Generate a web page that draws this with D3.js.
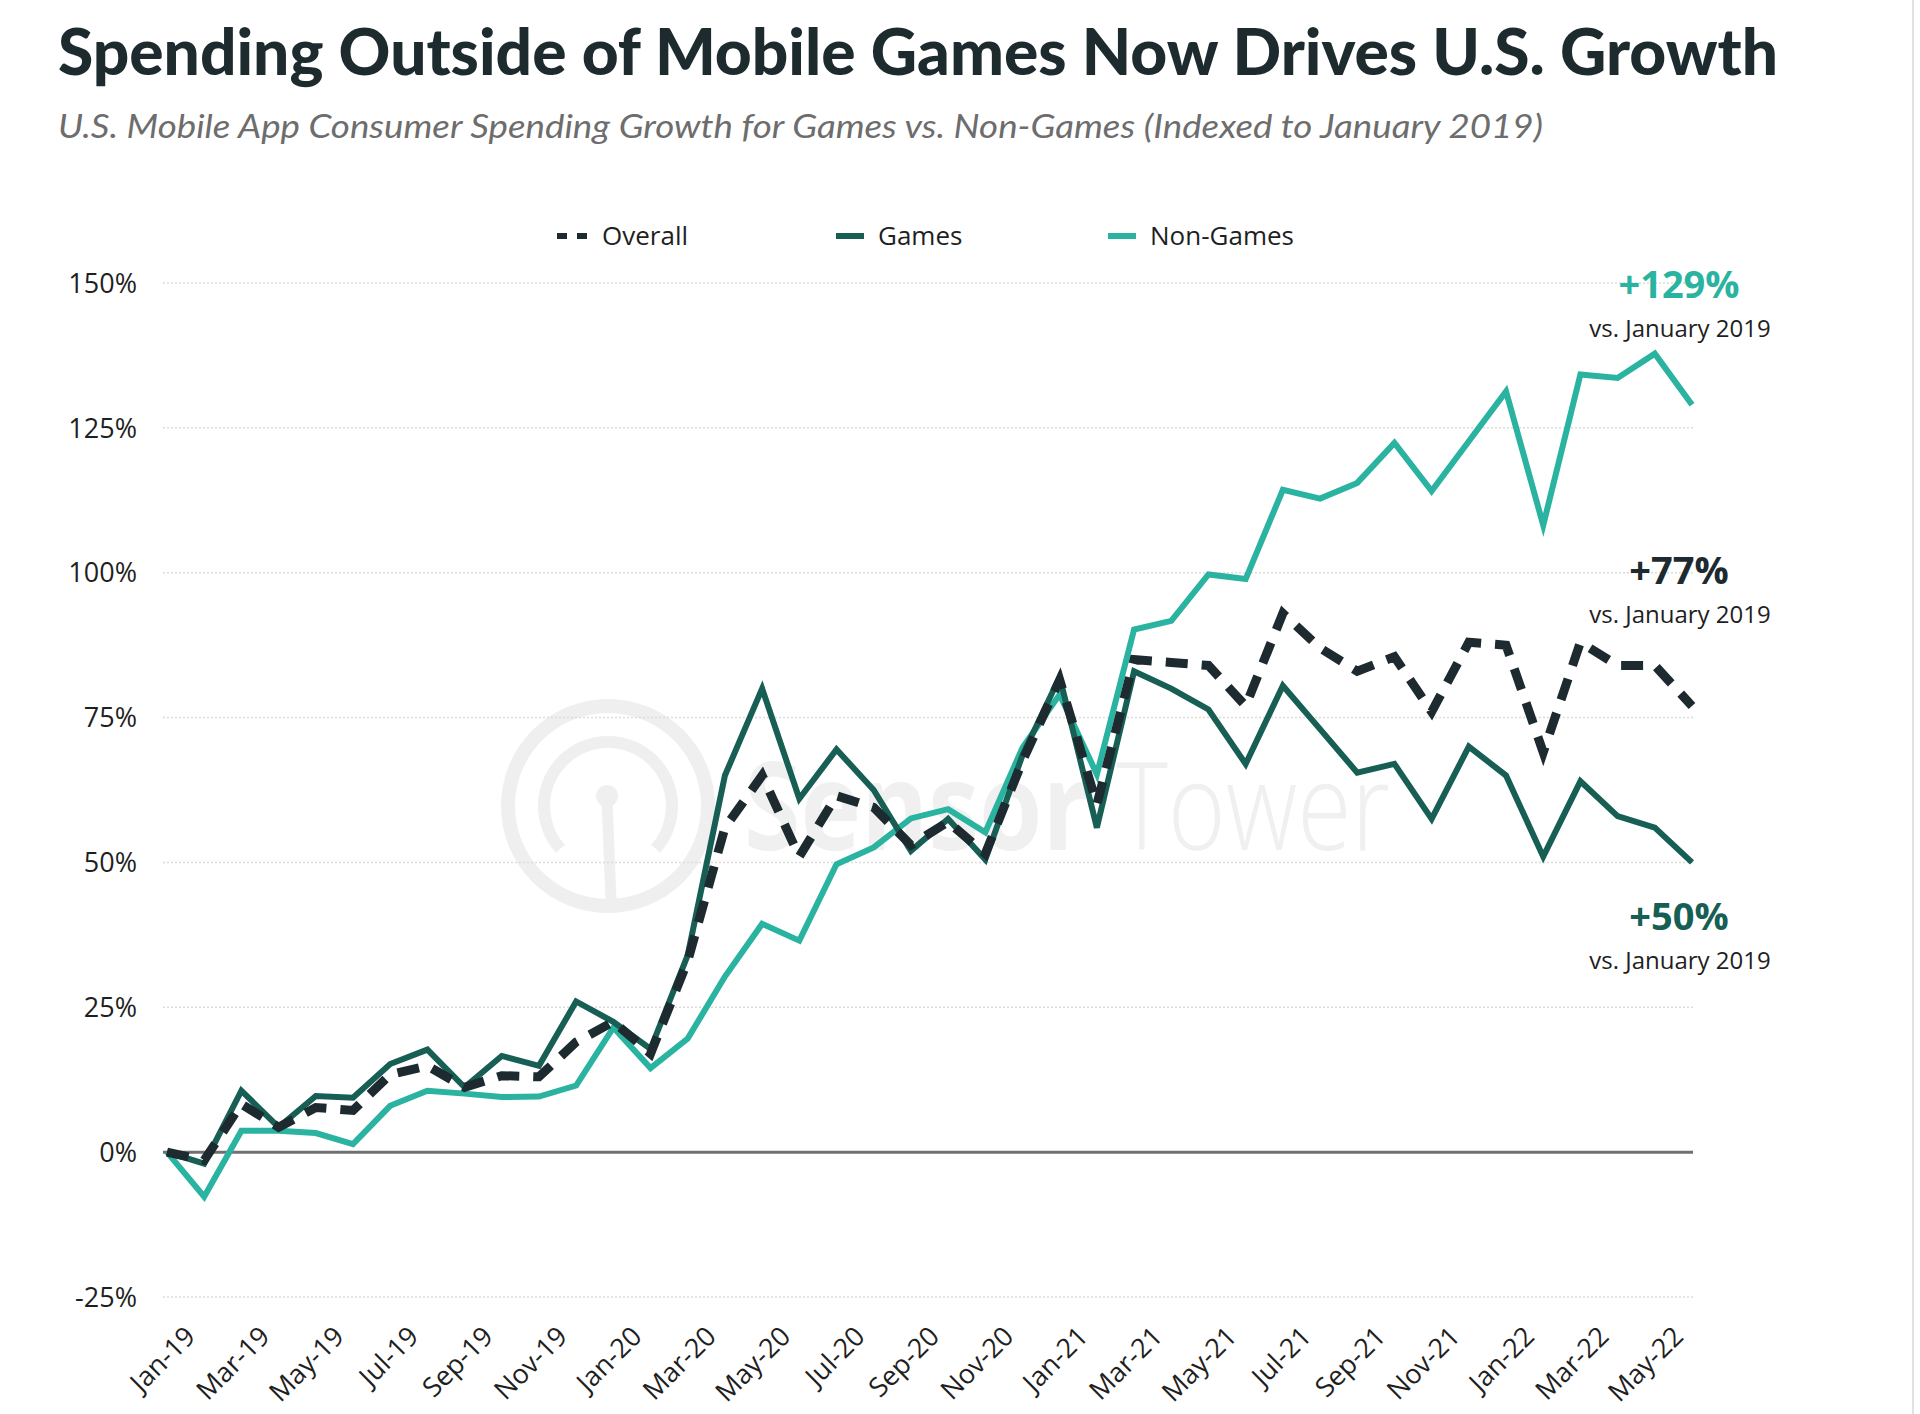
<!DOCTYPE html>
<html>
<head>
<meta charset="utf-8">
<script src="https://cdn.jsdelivr.net/npm/d3@7"></script>
<style>
  body { margin: 0; background: #fff; }
</style>
</head>
<body>
<div id="chart"></div>
<script>
// monthly categories, Jan-19 .. Jun-22
const months = ["Jan-19","Feb-19","Mar-19","Apr-19","May-19","Jun-19","Jul-19","Aug-19","Sep-19","Oct-19","Nov-19","Dec-19",
  "Jan-20","Feb-20","Mar-20","Apr-20","May-20","Jun-20","Jul-20","Aug-20","Sep-20","Oct-20","Nov-20","Dec-20",
  "Jan-21","Feb-21","Mar-21","Apr-21","May-21","Jun-21","Jul-21","Aug-21","Sep-21","Oct-21","Nov-21","Dec-21",
  "Jan-22","Feb-22","Mar-22","Apr-22","May-22","Jun-22"];

// growth vs Jan 2019, in %
const overall = [0, -1.4, 8.3, 4.3, 7.7, 7.2, 13.4, 14.9, 11.2, 13.2, 13, 19,
  22.5, 17, 33, 56, 65, 51, 61.5, 59.5, 53, 57, 51.5, 67.5,
  81.5, 60, 85, 84.5, 84, 77, 93, 87, 83, 85.5, 76, 88,
  87.5, 69, 88, 84, 84, 77];
const games = [0, -2, 10.6, 4.3, 9.7, 9.4, 15.2, 17.7, 11.2, 16.6, 14.9, 26,
  22.5, 17.8, 34, 65, 80, 61, 69.5, 62.5, 52, 57.5, 50.5, 68.5,
  82, 56, 83, 80, 76.4, 67, 80.5, 73, 65.5, 67, 57.5, 70,
  65, 51, 64, 58, 56, 50];
const nonGames = [0, -7.7, 3.7, 3.7, 3.3, 1.4, 8, 10.6, 10.1, 9.5, 9.6, 11.5,
  21.5, 14.5, 19.6, 30.3, 39.4, 36.5, 49.7, 52.6, 57.6, 59.2, 55.2, 69.8,
  79, 65.2, 90.2, 91.7, 99.7, 98.9, 114.3, 112.8, 115.5, 122.4, 114.1, 122.7,
  131.3, 108.2, 134.2, 133.6, 137.8, 129];

const yTicks = [-25, 0, 25, 50, 75, 100, 125, 150];
const xTickLabels = ["Jan-19","Mar-19","May-19","Jul-19","Sep-19","Nov-19","Jan-20","Mar-20","May-20","Jul-20",
  "Sep-20","Nov-20","Jan-21","Mar-21","May-21","Jul-21","Sep-21","Nov-21","Jan-22","Mar-22","May-22"];

const seriesNames = ["Overall", "Games", "Non-Games"];
const endLabels = ["+129%", "+77%", "+50%"];

const width = 1920;
const height = 1414;

const cDark = "#1d2a30";
const cGames = "#175e54";
const cNon = "#2ab3a0";

let svg = d3.select("#chart").append("svg")
    .attr("width", width)
    .attr("height", height)
    .attr("viewBox", `0 0 ${width} ${height}`)
    .style("font-family", "'Open Sans', sans-serif");

// scales
let x = d3.scalePoint().domain(months).range([167, 1692]);
let y = d3.scaleLinear().domain([-25, 150]).range([1297, 283]);

// thin frame line on right edge
svg.append("line")
    .attr("x1", 1913).attr("x2", 1913)
    .attr("y1", 0).attr("y2", height)
    .attr("stroke", "#e2e2e2")
    .attr("stroke-width", 2);

// title + subtitle
svg.append("text")
    .attr("x", 58).attr("y", 75)
    .attr("font-family", "Lato, 'Open Sans', sans-serif")
    .attr("font-weight", 900)
    .attr("font-size", 65)
    .attr("fill", "#1d2b2f")
    .attr("textLength", 1720)
    .attr("lengthAdjust", "spacingAndGlyphs")
    .text("Spending Outside of Mobile Games Now Drives U.S. Growth");

svg.append("text")
    .attr("x", 58).attr("y", 138)
    .attr("font-family", "Lato, 'Open Sans', sans-serif")
    .attr("font-style", "italic")
    .attr("font-size", 33)
    .attr("fill", "#6d6d6d")
    .attr("textLength", 1485)
    .attr("lengthAdjust", "spacingAndGlyphs")
    .text("U.S. Mobile App Consumer Spending Growth for Games vs. Non-Games (Indexed to January 2019)");

// watermark
let wm = svg.append("g").attr("fill", "none").attr("stroke", "#efefef");
wm.append("circle").attr("cx", 608).attr("cy", 806).attr("r", 100).attr("stroke-width", 14);
wm.append("path")
    .attr("transform", "translate(608,806)")
    .attr("d", d3.arc()({innerRadius: 58, outerRadius: 70, startAngle: -2.3, endAngle: 2.3}))
    .attr("fill", "#efefef").attr("stroke", "none");
wm.append("line").attr("x1", 607).attr("y1", 800).attr("x2", 611).attr("y2", 900).attr("stroke-width", 11);
wm.append("circle").attr("cx", 607).attr("cy", 796).attr("r", 11).attr("fill", "#efefef").attr("stroke", "none");

// watermark words, squeezed to their width with a scale transform
let wmWords = [
    {text: "Sensor", weight: 700, x0: 744, w: 345},
    {text: "Tower", weight: 300, x0: 1116, w: 274}
];
wmWords.forEach(wd => {
    let t = svg.append("text")
        .attr("x", 0).attr("y", 0)
        .attr("font-size", 122).attr("font-weight", wd.weight)
        .attr("fill", "#f0f0f0")
        .text(wd.text);
    let natural = t.node().getComputedTextLength();
    t.attr("transform", `translate(${wd.x0},850) scale(${wd.w / natural},1)`);
});

// gridlines + y labels
let grid = svg.append("g");
grid.selectAll("line")
    .data(yTicks.filter(d => d !== 0))
    .join("line")
    .attr("x1", 163).attr("x2", 1693)
    .attr("y1", d => y(d)).attr("y2", d => y(d))
    .attr("stroke", "#dcdcdc")
    .attr("stroke-width", 1.5)
    .attr("stroke-dasharray", "2,2");

svg.append("line")
    .attr("x1", 163).attr("x2", 1693)
    .attr("y1", y(0)).attr("y2", y(0))
    .attr("stroke", "#707070")
    .attr("stroke-width", 3);

svg.append("g").selectAll("text")
    .data(yTicks)
    .join("text")
    .attr("x", 137)
    .attr("y", d => y(d))
    .attr("dy", "0.36em")
    .attr("text-anchor", "end")
    .attr("font-size", 27)
    .attr("fill", "#1f1f1f")
    .text(d => d + "%");

// x labels, rotated
svg.append("g").selectAll("text")
    .data(xTickLabels)
    .join("text")
    .attr("text-anchor", "end")
    .attr("font-size", 27)
    .attr("fill", "#1f1f1f")
    .attr("transform", d => `translate(${x(d) + 30},1338) rotate(-45)`)
    .text(d => d);

// lines
let line = d3.line()
    .x((d, i) => x(months[i]))
    .y(d => y(d))
    .curve(d3.curveLinear);

svg.append("path")
    .datum(nonGames)
    .attr("d", line)
    .attr("fill", "none")
    .attr("stroke", cNon)
    .attr("stroke-width", 6)
    .attr("stroke-linejoin", "miter");

svg.append("path")
    .datum(games)
    .attr("d", line)
    .attr("fill", "none")
    .attr("stroke", cGames)
    .attr("stroke-width", 6)
    .attr("stroke-linejoin", "miter");

svg.append("path")
    .datum(overall)
    .attr("d", line)
    .attr("fill", "none")
    .attr("stroke", cDark)
    .attr("stroke-width", 9)
    .attr("stroke-dasharray", "22,14");

// legend
let legendX = [557, 836, 1108];
let legendColors = [cDark, cGames, cNon];
let legend = svg.append("g").selectAll("g")
    .data(seriesNames)
    .join("g")
    .attr("transform", (d, i) => `translate(${legendX[i]},236)`);

legend.append("line")
    .attr("x1", 0).attr("x2", (d, i) => i === 0 ? 31 : 28)
    .attr("y1", 0).attr("y2", 0)
    .attr("stroke", (d, i) => legendColors[i])
    .attr("stroke-width", 6)
    .attr("stroke-dasharray", (d, i) => i === 0 ? "10,10" : null);

legend.append("text")
    .attr("x", (d, i) => i === 0 ? 45 : 42)
    .attr("y", 0)
    .attr("dy", "0.36em")
    .attr("font-size", 26)
    .attr("fill", "#1f1f1f")
    .text(d => d);

// end annotations
let annColors = [cNon, cDark, cGames];
let annY = [298, 584, 930];
endLabels.forEach((lab, i) => {
    svg.append("text")
        .attr("x", 1679).attr("y", annY[i])
        .attr("text-anchor", "middle")
        .attr("font-weight", 700)
        .attr("font-size", 38)
        .attr("fill", annColors[i])
        .text(lab);
    svg.append("text")
        .attr("x", 1680).attr("y", annY[i] + 39)
        .attr("text-anchor", "middle")
        .attr("font-size", 24)
        .attr("fill", "#1f1f1f")
        .text("vs. January 2019");
});
</script>
</body>
</html>
